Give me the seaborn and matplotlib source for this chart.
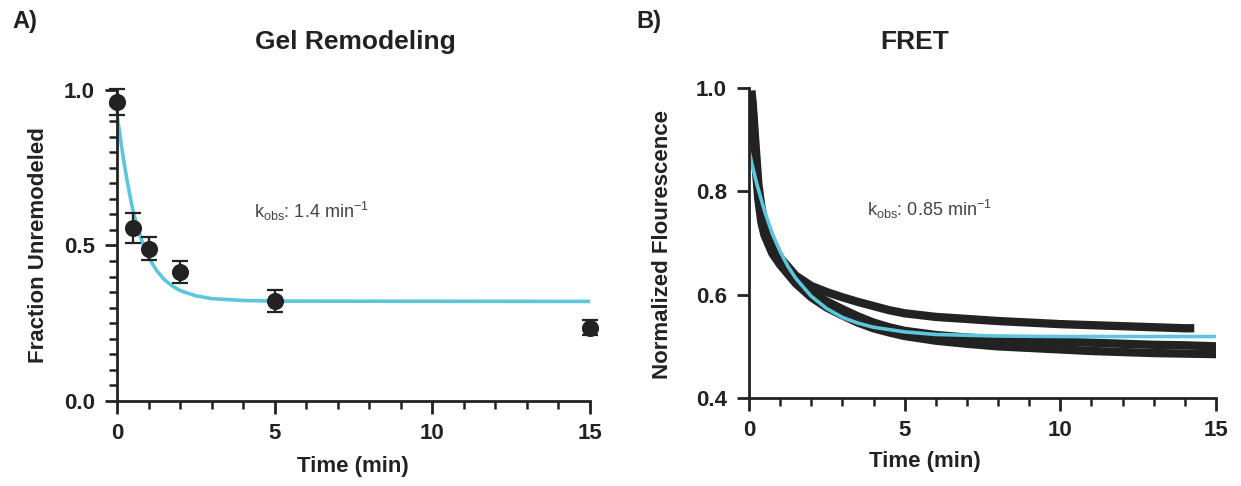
import matplotlib
matplotlib.use("Agg")
import matplotlib.pyplot as plt
from matplotlib.ticker import MultipleLocator
import seaborn as sns
import pandas as pd

# ---- panel A: gel remodeling ----
gel_time = [0, 0.5, 1, 2, 5, 15]
gel_frac = [0.962, 0.557, 0.490, 0.415, 0.322, 0.236]
gel_err = [0.042, 0.048, 0.038, 0.035, 0.036, 0.023]

gel_fit_t = [0, 0.1, 0.2, 0.3, 0.4, 0.5, 0.6, 0.75, 0.9, 1, 1.25, 1.5, 1.75, 2, 2.5, 3, 4, 5, 15]
gel_fit_y = [0.92, 0.85, 0.78, 0.72, 0.665, 0.615, 0.575, 0.525, 0.485, 0.462, 0.42, 0.39,
             0.37, 0.355, 0.338, 0.329, 0.323, 0.321, 0.32]

# ---- panel B: FRET traces ----
fret_t_a = [0.08, 0.12, 0.2, 0.3, 0.4, 0.5, 0.75, 1, 1.5, 2, 2.5, 3, 3.5, 4, 4.5, 5, 6, 7, 8,
            9, 10, 11, 12, 13, 14, 14.3]
fret_y_a = [0.995, 0.97, 0.90, 0.815, 0.77, 0.74, 0.70, 0.672, 0.637, 0.617, 0.605, 0.595,
            0.586, 0.578, 0.570, 0.564, 0.557, 0.553, 0.549, 0.546, 0.543, 0.541, 0.539,
            0.537, 0.535, 0.535]
fret_t_b = [0.08, 0.12, 0.2, 0.3, 0.4, 0.5, 0.75, 1, 1.5, 2, 2.5, 3, 3.5, 4, 4.5, 5, 6, 7, 8,
            9, 10, 11, 12, 13, 14, 15]
fret_y_b = [0.985, 0.96, 0.88, 0.80, 0.755, 0.728, 0.69, 0.665, 0.630, 0.605, 0.587, 0.572,
            0.558, 0.546, 0.537, 0.530, 0.522, 0.517, 0.514, 0.511, 0.509, 0.507, 0.505,
            0.503, 0.502, 0.500]
fret_t_c = [0.08, 0.12, 0.2, 0.3, 0.4, 0.5, 0.75, 1, 1.5, 2, 2.5, 3, 3.5, 4, 4.5, 5, 6, 7, 8,
            9, 10, 11, 12, 13, 14, 15]
fret_y_c = [0.975, 0.95, 0.86, 0.785, 0.74, 0.715, 0.68, 0.658, 0.622, 0.595, 0.575, 0.560,
            0.546, 0.535, 0.527, 0.520, 0.511, 0.505, 0.500, 0.497, 0.494, 0.491, 0.489,
            0.487, 0.486, 0.485]

fret_fit_t = [0, 0.1, 0.25, 0.4, 0.5, 0.75, 1, 1.25, 1.5, 2, 2.5, 3, 3.5, 4, 5, 6, 8, 10, 15]
fret_fit_y = [0.879, 0.852, 0.815, 0.783, 0.762, 0.718, 0.684, 0.655, 0.632, 0.597, 0.573,
              0.556, 0.545, 0.537, 0.528, 0.523, 0.520, 0.519, 0.519]

fit_color = "#5BC6DC"
dark = "#222222"

sns.set_theme(style="ticks")
plt.rcParams["font.family"] = ["Liberation Sans", "DejaVu Sans"]
plt.rcParams["mathtext.default"] = "regular"

fig = plt.figure(figsize=(12.41, 4.86), dpi=100)
ax1 = fig.add_axes([0.0943, 0.175, 0.3811, 0.640])
ax2 = fig.add_axes([0.6035, 0.181, 0.3764, 0.638])

fret = pd.concat([
    pd.DataFrame({"t": fret_t_a, "y": fret_y_a, "trace": "a"}),
    pd.DataFrame({"t": fret_t_b, "y": fret_y_b, "trace": "b"}),
    pd.DataFrame({"t": fret_t_c, "y": fret_y_c, "trace": "c"}),
])

# panel A
sns.lineplot(x=gel_fit_t, y=gel_fit_y, color=fit_color, lw=2.6, ax=ax1, zorder=2)
ax1.errorbar(gel_time, gel_frac, yerr=gel_err, fmt="none", ecolor=dark, elinewidth=1.6,
             capsize=6, capthick=1.6, zorder=3, clip_on=False)
sns.scatterplot(x=gel_time, y=gel_frac, color=dark, s=130, edgecolor=dark, ax=ax1,
                zorder=4, clip_on=False)
ax1.set_xlim(0, 15)
ax1.set_ylim(0, 1.0)
ax1.set_xticks([0, 5, 10, 15])
ax1.set_yticks([0.0, 0.5, 1.0])
ax1.xaxis.set_minor_locator(MultipleLocator(1))
ax1.yaxis.set_minor_locator(MultipleLocator(0.05))
ax1.text(4.35, 0.61, r"k$_{obs}$: 1.4 min$^{-1}$", fontsize=13, color="#444444",
         va="center", ha="left")

# panel B
sns.lineplot(data=fret, x="t", y="y", units="trace", estimator=None, sort=False,
             color=dark, lw=6.0, ax=ax2, zorder=2, solid_capstyle="butt")
sns.lineplot(x=fret_fit_t, y=fret_fit_y, color=fit_color, lw=2.6, ax=ax2, zorder=3)
ax2.set_xlim(0, 15)
ax2.set_ylim(0.4, 1.0)
ax2.set_xticks([0, 5, 10, 15])
ax2.set_yticks([0.4, 0.6, 0.8, 1.0])
ax2.xaxis.set_minor_locator(MultipleLocator(1))
ax2.text(3.8, 0.765, r"k$_{obs}$: 0.85 min$^{-1}$", fontsize=13, color="#444444",
         va="center", ha="left")

for ax in (ax1, ax2):
    sns.despine(ax=ax)
    for s in ("left", "bottom"):
        ax.spines[s].set_linewidth(2.0)
        ax.spines[s].set_color(dark)
        ax.spines[s].set_zorder(5)
    ax.tick_params(which="major", length=9, width=2.0, color=dark, labelsize=16,
                   labelcolor=dark, pad=7)
    ax.tick_params(which="minor", length=6, width=1.8, color=dark)
    for lab in ax.get_xticklabels() + ax.get_yticklabels():
        lab.set_fontweight("bold")
    ax.set_xlabel("")
    ax.set_ylabel("")

# titles, axis labels and panel letters
fig.text(0.286, 0.913, "Gel Remodeling", ha="center", va="center", fontsize=19,
         fontweight="bold", color=dark)
fig.text(0.737, 0.913, "FRET", ha="center", va="center", fontsize=19,
         fontweight="bold", color=dark)
fig.text(0.284, 0.040, "Time (min)", ha="center", va="center", fontsize=16,
         fontweight="bold", color=dark)
fig.text(0.745, 0.050, "Time (min)", ha="center", va="center", fontsize=16,
         fontweight="bold", color=dark)
fig.text(0.031, 0.496, "Fraction Unremodeled", ha="center", va="center", rotation=90,
         fontsize=16, fontweight="bold", color=dark)
fig.text(0.534, 0.497, "Normalized Flourescence", ha="center", va="center", rotation=90,
         fontsize=16, fontweight="bold", color=dark)
fig.text(0.010, 0.955, "A)", ha="left", va="center", fontsize=17, fontweight="bold",
         color=dark)
fig.text(0.513, 0.955, "B)", ha="left", va="center", fontsize=17, fontweight="bold",
         color=dark)

fig.savefig("out.png", dpi=100)
